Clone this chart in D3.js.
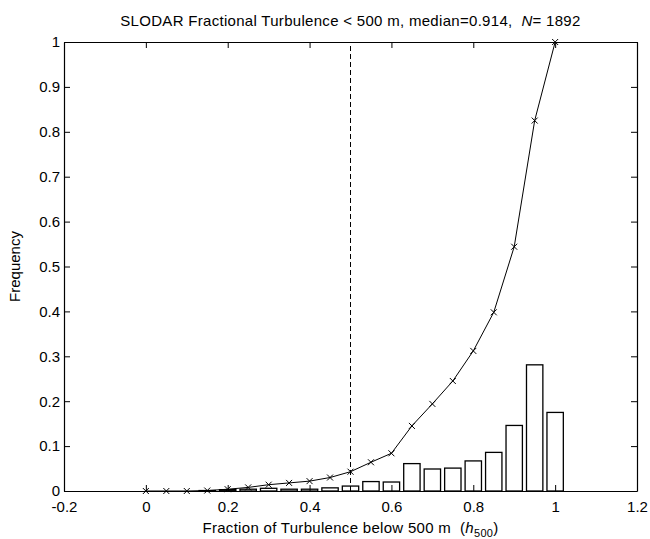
<!DOCTYPE html>
<html>
<head>
<meta charset="utf-8">
<script src="https://cdn.jsdelivr.net/npm/d3@7"></script>
<style>
    html, body { margin: 0; padding: 0; background: #fff; }
    svg { display: block; font-family: "Liberation Sans", Arial, sans-serif; }
</style>
</head>
<body>
<div id="chart"></div>
<script>
// Histogram bin centres (fraction of turbulence below 500 m).
const binCentres = [0, 0.05, 0.1, 0.15, 0.2, 0.25, 0.3, 0.35, 0.4, 0.45, 0.5,
    0.55, 0.6, 0.65, 0.7, 0.75, 0.8, 0.85, 0.9, 0.95, 1.0];
// Frequency of each bin (bars).
const binFrequency = [0, 0, 0, 0.001, 0.003, 0.004, 0.006, 0.004, 0.004, 0.007, 0.011,
    0.021, 0.020, 0.061, 0.049, 0.051, 0.067, 0.086, 0.146, 0.281, 0.175];
// Cumulative frequency (line with x markers).
const cumulativeFrequency = [0, 0, 0, 0.001, 0.004, 0.008, 0.014, 0.018, 0.022, 0.030, 0.043,
    0.064, 0.084, 0.145, 0.194, 0.245, 0.312, 0.398, 0.544, 0.825, 1.0];
const median = 0.914;
const sampleCount = 1892;
const markerX = 0.5;
const xTicks = [-0.2, 0, 0.2, 0.4, 0.6, 0.8, 1, 1.2];
const yTicks = [0, 0.1, 0.2, 0.3, 0.4, 0.5, 0.6, 0.7, 0.8, 0.9, 1];
const binWidth = 0.04;

const dataset = binCentres.map((c, i) => ({x: c, freq: binFrequency[i], cum: cumulativeFrequency[i]}));

// Set the dimensions and margins of the chart.
const totalWidth = 650;
const totalHeight = 539;
const margin = {top: 42, right: 13, bottom: 48, left: 64};
const width = totalWidth - margin.left - margin.right;
const height = totalHeight - margin.top - margin.bottom;

const root = d3.select('#chart')
    .append('svg')
        .attr('width', totalWidth)
        .attr('height', totalHeight);
const svg = root.append('g')
    .attr('transform', `translate(${margin.left},${margin.top})`);

// Scales.
const x = d3.scaleLinear().domain([-0.2, 1.2]).range([0, width]);
const y = d3.scaleLinear().domain([0, 1]).range([height, 0]);

const fmt = d => String(+d.toFixed(1));

// Bars (zero-height bins draw nothing).
svg.append('g')
    .selectAll('rect')
    .data(dataset.filter(d => d.freq > 0))
    .enter()
    .append('rect')
        .attr('x', d => x(d.x - binWidth / 2))
        .attr('y', d => y(d.freq))
        .attr('width', x(binWidth) - x(0))
        .attr('height', d => y(0) - y(d.freq))
        .attr('fill', '#fff')
        .attr('stroke', '#000')
        .attr('stroke-width', 1.3);

// Cumulative line.
svg.append('path')
    .datum(dataset)
    .attr('fill', 'none')
    .attr('stroke', '#000')
    .attr('stroke-width', 1)
    .attr('d', d3.line().x(d => x(d.x)).y(d => y(d.cum)));

// x markers.
const m = 3;
svg.append('g')
    .selectAll('path')
    .data(dataset)
    .enter()
    .append('path')
        .attr('d', d => {
            const px = x(d.x), py = y(d.cum);
            return `M${px - m},${py - m}L${px + m},${py + m}M${px - m},${py + m}L${px + m},${py - m}`;
        })
        .attr('stroke', '#000')
        .attr('stroke-width', 1);

// Dashed line at 0.5.
svg.append('line')
    .attr('x1', x(markerX)).attr('x2', x(markerX))
    .attr('y1', y(0)).attr('y2', y(1))
    .attr('stroke', '#000')
    .attr('stroke-width', 1)
    .attr('stroke-dasharray', '5,3');

// Axes (box with inward ticks).
const styleAxis = g => {
    g.selectAll('.domain').attr('stroke', '#000').attr('stroke-width', 1.2);
    g.selectAll('.tick line').attr('stroke', '#000');
    g.selectAll('text').style('font-size', '15px').attr('fill', '#000');
};
svg.append('g')
    .attr('transform', `translate(0,${height})`)
    .call(d3.axisBottom(x).tickValues(xTicks).tickFormat(fmt).tickSizeInner(-6).tickSizeOuter(0).tickPadding(10))
    .call(styleAxis);
svg.append('g')
    .call(d3.axisTop(x).tickValues(xTicks).tickFormat('').tickSizeInner(-6).tickSizeOuter(0))
    .call(styleAxis);
svg.append('g')
    .call(d3.axisLeft(y).tickValues(yTicks).tickFormat(fmt).tickSizeInner(-6).tickSizeOuter(0).tickPadding(4))
    .call(styleAxis);
svg.append('g')
    .attr('transform', `translate(${width},0)`)
    .call(d3.axisRight(y).tickValues(yTicks).tickFormat('').tickSizeInner(-6).tickSizeOuter(0))
    .call(styleAxis);

// Title.
const title = root.append('text')
    .attr('x', margin.left + width / 2)
    .attr('y', 26)
    .attr('text-anchor', 'middle')
    .style('font-size', '15px')
    .style('letter-spacing', '0.3px')
    .style('white-space', 'pre');
title.append('tspan').text(`SLODAR Fractional Turbulence < 500 m, median=${median},  `);
title.append('tspan').style('font-style', 'italic').text('N');
title.append('tspan').text(`= ${sampleCount}`);

// X label.
const xLabel = root.append('text')
    .attr('x', margin.left + width / 2)
    .attr('y', 533)
    .attr('text-anchor', 'middle')
    .style('font-size', '15px')
    .style('letter-spacing', '0.3px')
    .style('white-space', 'pre');
xLabel.append('tspan').text('Fraction of Turbulence below 500 m  (');
xLabel.append('tspan').style('font-style', 'italic').text('h');
xLabel.append('tspan').attr('dy', 4).style('font-size', '11px').text('500');
xLabel.append('tspan').attr('dy', -4).text(')');

// Y label.
root.append('text')
    .attr('transform', `translate(20,${margin.top + height / 2}) rotate(-90)`)
    .attr('text-anchor', 'middle')
    .style('font-size', '15px')
    .text('Frequency');
</script>
</body>
</html>
